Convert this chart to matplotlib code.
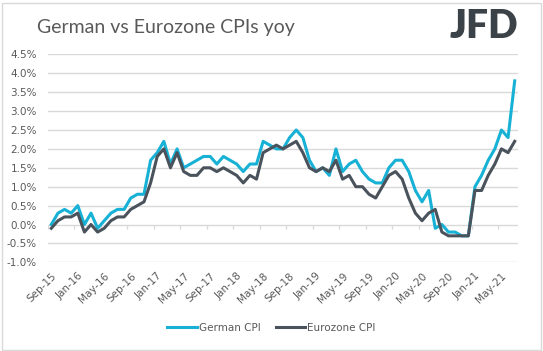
import matplotlib
matplotlib.use('Agg')
import matplotlib.pyplot as plt
from matplotlib.patches import Rectangle
import numpy as np

# monthly yoy CPI, Sep-15 .. Jul-21
months = ['Sep-15', 'Oct-15', 'Nov-15', 'Dec-15',
          'Jan-16', 'Feb-16', 'Mar-16', 'Apr-16', 'May-16', 'Jun-16', 'Jul-16', 'Aug-16', 'Sep-16', 'Oct-16', 'Nov-16', 'Dec-16',
          'Jan-17', 'Feb-17', 'Mar-17', 'Apr-17', 'May-17', 'Jun-17', 'Jul-17', 'Aug-17', 'Sep-17', 'Oct-17', 'Nov-17', 'Dec-17',
          'Jan-18', 'Feb-18', 'Mar-18', 'Apr-18', 'May-18', 'Jun-18', 'Jul-18', 'Aug-18', 'Sep-18', 'Oct-18', 'Nov-18', 'Dec-18',
          'Jan-19', 'Feb-19', 'Mar-19', 'Apr-19', 'May-19', 'Jun-19', 'Jul-19', 'Aug-19', 'Sep-19', 'Oct-19', 'Nov-19', 'Dec-19',
          'Jan-20', 'Feb-20', 'Mar-20', 'Apr-20', 'May-20', 'Jun-20', 'Jul-20', 'Aug-20', 'Sep-20', 'Oct-20', 'Nov-20', 'Dec-20',
          'Jan-21', 'Feb-21', 'Mar-21', 'Apr-21', 'May-21', 'Jun-21', 'Jul-21']

german_cpi = [0.0, 0.3, 0.4, 0.3,
              0.5, 0.0, 0.3, -0.1, 0.1, 0.3, 0.4, 0.4, 0.7, 0.8, 0.8, 1.7,
              1.9, 2.2, 1.6, 2.0, 1.5, 1.6, 1.7, 1.8, 1.8, 1.6, 1.8, 1.7,
              1.6, 1.4, 1.6, 1.6, 2.2, 2.1, 2.0, 2.0, 2.3, 2.5, 2.3, 1.7,
              1.4, 1.5, 1.3, 2.0, 1.4, 1.6, 1.7, 1.4, 1.2, 1.1, 1.1, 1.5,
              1.7, 1.7, 1.4, 0.9, 0.6, 0.9, -0.1, 0.0, -0.2, -0.2, -0.3, -0.3,
              1.0, 1.3, 1.7, 2.0, 2.5, 2.3, 3.8]

eurozone_cpi = [-0.1, 0.1, 0.2, 0.2,
                0.3, -0.2, 0.0, -0.2, -0.1, 0.1, 0.2, 0.2, 0.4, 0.5, 0.6, 1.1,
                1.8, 2.0, 1.5, 1.9, 1.4, 1.3, 1.3, 1.5, 1.5, 1.4, 1.5, 1.4,
                1.3, 1.1, 1.3, 1.2, 1.9, 2.0, 2.1, 2.0, 2.1, 2.2, 1.9, 1.5,
                1.4, 1.5, 1.4, 1.7, 1.2, 1.3, 1.0, 1.0, 0.8, 0.7, 1.0, 1.3,
                1.4, 1.2, 0.7, 0.3, 0.1, 0.3, 0.4, -0.2, -0.3, -0.3, -0.3, -0.3,
                0.9, 0.9, 1.3, 1.6, 2.0, 1.9, 2.2]

yticks = [-1.0, -0.5, 0.0, 0.5, 1.0, 1.5, 2.0, 2.5, 3.0, 3.5, 4.0, 4.5]

german_color = '#17B1D6'
euro_color = '#4A535C'
text_color = '#595959'
grid_color = '#D9D9D9'

W, H = 543, 351
fig = plt.figure(figsize=(W / 100, H / 100), dpi=100)
fig.patch.set_facecolor('white')

# chart border
fig.add_artist(Rectangle((1.5 / W, 1.5 / H), (W - 4) / W, (H - 4) / H,
                         transform=fig.transFigure, fill=False,
                         edgecolor='#D9D9D9', linewidth=1.0))

ax = fig.add_axes([48 / W, 1 - 262.3 / H, 470 / W, (262.3 - 54.4) / H])
x = np.arange(len(months))

ax.plot(x, german_cpi, color=german_color, linewidth=2.2, label='German CPI', zorder=3)
ax.plot(x, eurozone_cpi, color=euro_color, linewidth=2.2, label='Eurozone CPI', zorder=3)

ax.set_xlim(-0.5, len(months) - 0.5)
ax.set_ylim(yticks[0], yticks[-1])
ax.set_yticks(yticks)
ax.set_yticklabels(['{:.1f}%'.format(v) for v in yticks])
ax.yaxis.grid(True, color=grid_color, linewidth=1.0)
ax.set_axisbelow(True)

# category axis crosses at zero, tick marks between categories
bounds = np.arange(3.5, len(months), 4)
ax.vlines(np.concatenate([[-0.5], bounds]), -0.11, 0, color=grid_color, linewidth=1.0, zorder=1)

ax.set_xticks(x[::4])
ax.set_xticklabels(months[::4], rotation=45, ha='right', va='top', rotation_mode='anchor')

for s in ax.spines.values():
    s.set_visible(False)
ax.tick_params(axis='both', length=0, labelsize=7.5, labelcolor=text_color)
ax.tick_params(axis='x', pad=6)
ax.tick_params(axis='y', pad=8)

fig.text(37 / W, 1 - 28 / H, 'German vs Eurozone CPIs yoy', fontsize=14,
         color=text_color, family='Lato', weight='normal', ha='left', va='center')
fig.text(484 / W, 1 - 26 / H, 'JFD', fontsize=28, color='#3B4248',
         family='Lato', weight='heavy', ha='center', va='center')

fig.legend(loc='center', bbox_to_anchor=(0.5, 1 - 328 / H), ncol=2, frameon=False,
           fontsize=7.5, labelcolor=text_color, handlelength=2.8,
           handletextpad=0.2, columnspacing=1.5)

fig.savefig('out.png', dpi=100)
